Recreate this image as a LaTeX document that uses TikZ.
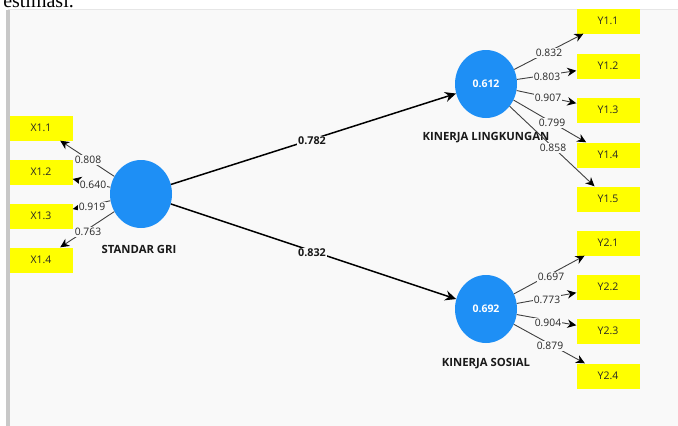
\documentclass[tikz,border=0pt]{standalone}
\usepackage{fontspec}
\setmainfont{Open Sans}
\newfontfamily\serifcut{Liberation Serif}
\usetikzlibrary{shapes.geometric,arrows.meta}
\definecolor{bgc}{HTML}{F9F9F9}
\definecolor{barc}{HTML}{C8C8C8}
\definecolor{topc}{HTML}{E6E6E6}
\definecolor{lvblue}{HTML}{1E8FF5}
\definecolor{indyel}{HTML}{FFFF00}
\definecolor{loadc}{HTML}{404040}
\tikzset{
  latent/.style={ellipse, fill=lvblue, draw=none, minimum width=62pt, minimum height=68pt, inner sep=0pt,
     text=white, font=\fontsize{10.5}{12}\selectfont\bfseries},
  indicator/.style={rectangle, fill=indyel, draw=none, minimum width=63pt, minimum height=25pt, inner sep=0pt,
     text=black!85, font=\fontsize{10.5}{12}\selectfont},
  lvlabel/.style={font=\fontsize{11.3}{13}\selectfont\bfseries, text=black!90},
  loadline/.style={draw=loadc, line width=0.9pt, -{Stealth[length=9pt,width=8.5pt,color=black]}},
  pathline/.style={draw=black, line width=1.5pt, -{Stealth[length=11pt,width=10pt]}},
  loadlbl/.style={fill=bgc, inner sep=0.8pt, text=black!85, font=\fontsize{10.3}{12}\selectfont},
  pathlbl/.style={fill=bgc, inner sep=0.8pt, text=black!90, font=\fontsize{10.8}{12}\selectfont\bfseries},
}
\begin{document}
\begin{tikzpicture}[x=1pt,y=-1pt]
\useasboundingbox (0,0) rectangle (678,426);
\fill[white] (0,0) rectangle (678,426);
\fill[bgc] (8,9) rectangle (678,426);
\draw[topc, line width=0.8pt] (8,9.4) -- (678,9.4);
\fill[barc] (6,10) rectangle (10,426);
\begin{scope}
  \clip (0,0) rectangle (678,8.6);
  \node[anchor=base east, inner sep=0pt, font=\serifcut\fontsize{20}{20}\selectfont] (toptext) at (74,7) {estimasi.};
\end{scope}

% latent variables
\node[latent] (sgri) at (141,194) {};
\node[latent] (kl) at (486,84) {0.612};
\node[latent] (ks) at (486,309) {0.692};

% indicators
\node[indicator] (x11) at (41,128) {X1.1};
\node[indicator] (x12) at (41,172) {X1.2};
\node[indicator] (x13) at (41,216) {X1.3};
\node[indicator] (x14) at (41,260) {X1.4};

\node[indicator] (y11) at (608,21) {Y1.1};
\node[indicator] (y12) at (608,66) {Y1.2};
\node[indicator] (y13) at (608,110) {Y1.3};
\node[indicator] (y14) at (608,155) {Y1.4};
\node[indicator] (y15) at (608,199) {Y1.5};

\node[indicator] (y21) at (608,243) {Y2.1};
\node[indicator] (y22) at (608,287) {Y2.2};
\node[indicator] (y23) at (608,331) {Y2.3};
\node[indicator] (y24) at (608,376) {Y2.4};

% construct labels
\node[lvlabel] (lsgri) at (139,249) {STANDAR GRI};
\node[lvlabel] (lkl) at (486,138) {KINERJA LINGKUNGAN};
\node[lvlabel] (lks) at (486,364) {KINERJA SOSIAL};

% structural paths
\draw[pathline] (sgri) -- (kl);
\draw[pathline] (sgri) -- (ks);

% loadings
\foreach \t in {x11,x12,x13,x14} \draw[loadline] (sgri) -- (\t);
\foreach \t in {y11,y12,y13,y14,y15} \draw[loadline] (kl) -- (\t);
\foreach \t in {y21,y22,y23,y24} \draw[loadline] (ks) -- (\t);

% path labels
\node[pathlbl] (p1) at (312,141) {0.782};
\node[pathlbl] (p2) at (312,253) {0.832};

% loading labels
\node[loadlbl] (lx11) at (88,160) {0.808};
\node[loadlbl] (lx12) at (93,185) {0.640};
\node[loadlbl] (lx13) at (92,207) {0.919};
\node[loadlbl] (lx14) at (88,232) {0.763};

\node[loadlbl] (ly11) at (549,53) {0.832};
\node[loadlbl] (ly12) at (547,77) {0.803};
\node[loadlbl] (ly13) at (548,98) {0.907};
\node[loadlbl] (ly14) at (552,123) {0.799};
\node[loadlbl] (ly15) at (553,148) {0.858};

\node[loadlbl] (ly21) at (551,277) {0.697};
\node[loadlbl] (ly22) at (547,300) {0.773};
\node[loadlbl] (ly23) at (548,323) {0.904};
\node[loadlbl] (ly24) at (550,346) {0.879};
\end{tikzpicture}
\end{document}
